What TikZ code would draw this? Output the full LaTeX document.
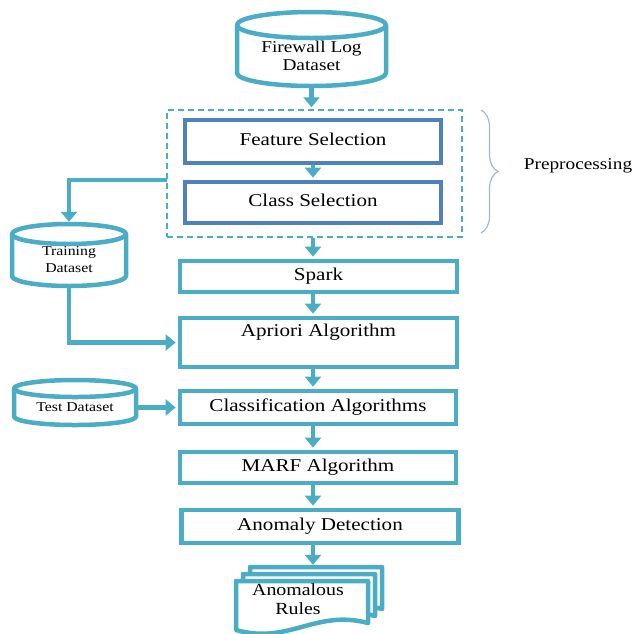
\documentclass[tikz,border=0pt]{standalone}
\usepackage{fontspec}
\setmainfont{Liberation Serif}[FakeStretch=1.17]
\usetikzlibrary{arrows.meta,decorations.pathreplacing,calc}
\definecolor{flowteal}{HTML}{4BACC6}
\definecolor{flowblue}{HTML}{4F81BD}
\definecolor{bracegray}{HTML}{A3B8D0}

% database cylinder: name, centre x, top, bottom, x radius, y radius,
% font size, line spacing, text
\newcommand\datacyl[9]{%
  \draw[cyl] (#2-#5,#3+#6) -- (#2-#5,#4-#6)
    arc[start angle=180,end angle=360,x radius=#5pt,y radius=#6pt]
    -- (#2+#5,#3+#6);
  \draw[cyl] (#2,#3+#6) ellipse[x radius=#5pt,y radius=#6pt];
  \node[inner sep=0pt,minimum width={2*#5pt},minimum height={#4pt-#3pt}]
    (#1) at (#2,{(#3+#4)/2}) {};
  \node[align=center,font=\fontsize{#7}{#8}\selectfont]
    (#1-text) at (#2,{(#3+#6+#4)/2}) {#9};
}
% one sheet of a stacked document: left, right, top, right end of the wavy bottom
\newcommand\docsheet[4]{%
  \draw[cyl] (#1,#3) -- (#2,#3) -- (#2,#4)
    .. controls ({#2-0.4*(#2-#1)},#4-14) and ({#1+0.4*(#2-#1)},#4+22) .. (#1,#4+7)
    -- cycle;
}

\begin{document}
\begin{tikzpicture}[x=1pt,y=-1pt,
  box/.style={draw=flowteal,line width=4.8pt,fill=white,inner sep=3pt,
    font=\fontsize{18}{21}\selectfont},
  prebox/.style={box,draw=flowblue,minimum width=256pt},
  cyl/.style={draw=flowteal,line width=4.5pt,fill=white,line join=round},
  arr/.style={draw=flowteal,line width=4.5pt,shorten >=2pt,
    -{Triangle[width=16pt,length=10pt]}},
  ]
\useasboundingbox (0,0) rectangle (634,633);

% source data
\datacyl{fw}{311.5}{12}{86}{74.5}{13}{16.5}{18}{Firewall Log\\Dataset}

% preprocessing group
\node[draw=flowteal,line width=1.4pt,dash pattern=on 6pt off 4pt,
  minimum width=295pt,minimum height=127pt] (pre) at (314.5,173.5) {};
\node[prebox,minimum height=43pt] (feat) at (313,141.5) {\raisebox{5pt}{Feature Selection}};
\node[prebox,minimum height=41pt] (cls) at (313,202.5) {\raisebox{5pt}{Class Selection}};
\draw[draw=bracegray,line width=1.2pt,
  decoration={brace,amplitude=17pt},decorate] (481,110) -- (481,233);
\node[font=\fontsize{16.5}{19}\selectfont] (pretext) at (578,166) {Preprocessing};

% main pipeline
\node[box,minimum width=277pt,minimum height=31pt] (spark) at (318.5,276.5) {Spark};
\node[box,minimum width=277pt,minimum height=49pt,text height=14pt,text depth=27pt]
  (apriori) at (318.5,342.5) {Apriori Algorithm};
\node[box,minimum width=276pt,minimum height=33pt] (classif) at (318,407.5) {Classification Algorithms};
\node[box,minimum width=276pt,minimum height=31pt] (marf) at (318,467.5) {MARF Algorithm};
\node[box,minimum width=277pt,minimum height=33pt] (anom) at (320,526.5) {Anomaly Detection};

% side data sets
\datacyl{train}{69}{224}{286}{57}{10}{13.5}{17}{Training\\Dataset}
\datacyl{test}{75}{380}{425}{61}{8.5}{13.5}{16}{Test Dataset}

% stacked result documents
\docsheet{250}{382}{567}{609}
\docsheet{243}{375}{574}{616}
\docsheet{236}{368}{581}{623}
\node[inner sep=0pt,minimum width=146pt,minimum height=66pt] (rules) at (309,600) {};
\node[align=center,font=\fontsize{17}{18.5}\selectfont] (rules-text) at (298,599)
  {Anomalous\\Rules};

% connectors
\coordinate (tap) at (167,180);
\draw[arr] (fw.south) -- (pre.north -| fw.south);
\draw[arr] (feat.south) -- (cls.north);
\draw[arr] (pre.south -| feat.south) -- (spark.north -| feat.south);
\draw[arr] (spark.south -| feat.south) -- (apriori.north -| feat.south);
\draw[arr] (apriori.south -| feat.south) -- (classif.north -| feat.south);
\draw[arr] (classif.south -| feat.south) -- (marf.north -| feat.south);
\draw[arr] (marf.south -| feat.south) -- (anom.north -| feat.south);
\draw[arr] (anom.south -| feat.south) -- (rules.north -| feat.south);
\draw[arr] (tap) -| (train.north);
\draw[arr] (train.south) |- (apriori.west);
\draw[arr] (test.east |- classif.west) -- (classif.west);
\end{tikzpicture}
\end{document}
